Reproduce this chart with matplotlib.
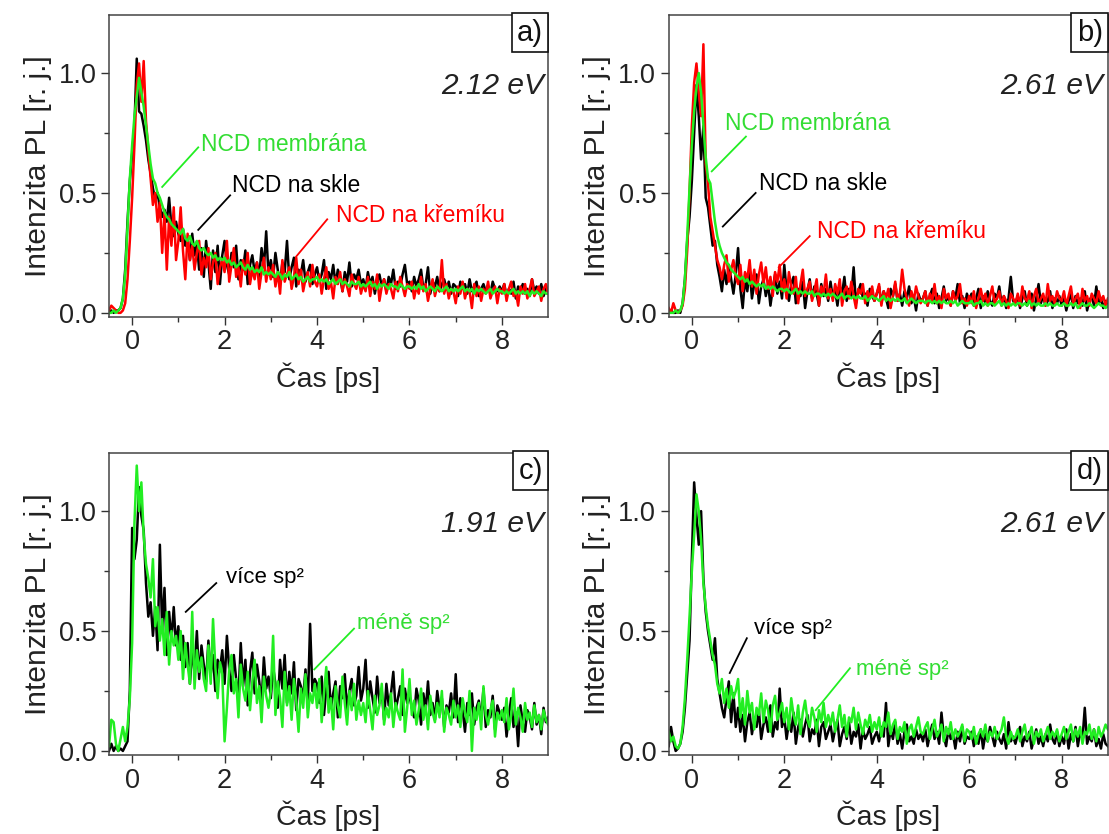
import numpy as np
import matplotlib
matplotlib.use('Agg')
import matplotlib.pyplot as plt

plt.rcParams['font.family'] = ['Liberation Sans', 'DejaVu Sans']

# time axis in ps, one sample every 0.05 ps from -0.5 to 9.0
t = np.round(np.arange(-0.5, 9.0001, 0.05), 2)

# PL intensities, in hundredths (rows: t<0, then 1 ps per row)
# panel a) 2.12 eV
a_skle = [0, 1, 0, 1, 1, 2, 6, 18, 38, 55,
          66, 78, 106, 84, 83, 78, 72, 64, 58, 52, 47, 50, 44, 40, 43, 38, 48, 36, 32, 38,
          33, 30, 35, 28, 31, 22, 33, 24, 29, 18, 27, 15, 30, 21, 10, 26, 17, 28, 12, 24,
          30, 20, 16, 25, 19, 28, 14, 22, 18, 26, 12, 20, 24, 17, 21, 15, 27, 19, 34, 16,
          22, 15, 25, 18, 12, 21, 17, 30, 14, 19, 23, 11, 18, 16, 22, 13, 17, 20, 12, 16,
          19, 13, 16, 22, 10, 17, 14, 20, 12, 18, 15, 9, 17, 13, 21, 11, 16, 14, 18, 12,
          14, 10, 17, 12, 15, 8, 13, 16, 11, 14, 9, 15, 12, 18, 10, 13, 11, 16, 20, 12,
          13, 9, 15, 11, 14, 18, 10, 12, 19, 8, 13, 11, 15, 9, 12, 14, 10, 13, 8, 12,
          11, 7, 13, 10, 12, 8, 14, 9, 11, 13, 7, 10, 12, 9, 11, 8, 13, 10, 9, 11,
          9, 12, 7, 10, 8, 13, 6, 11, 9, 12, 8, 10, 7, 14, 9, 11, 8, 12, 7, 10, 9]
a_kremik = [1, 3, 2, 1, 0, 0, 1, 4, 14, 30,
            48, 70, 95, 104, 88, 105, 80, 68, 56, 45, 50, 38, 46, 25, 42, 18, 40, 28, 44, 22,
            30, 44, 26, 14, 33, 22, 28, 18, 25, 30, 16, 23, 19, 27, 14, 21, 25, 12, 19, 22,
            17, 30, 13, 20, 27, 15, 19, 11, 22, 16, 25, 12, 18, 14, 21, 10, 17, 23, 13, 19,
            14, 20, 11, 17, 8, 22, 13, 16, 19, 10, 15, 23, 12, 18, 9, 14, 17, 11, 20, 13,
            11, 16, 8, 14, 19, 10, 13, 6, 15, 12, 17, 9, 14, 11, 7, 16, 12, 10, 15, 8,
            12, 9, 15, 7, 13, 10, 16, 5, 11, 14, 8, 12, 10, 6, 13, 9, 15, 11, 7, 12,
            10, 13, 6, 11, 8, 15, 9, 12, 5, 10, 14, 7, 11, 9, 22, 8, 12, 6, 10, 9,
            4, 11, 8, 13, 6, 10, 9, 2, 12, 7, 11, 5, 10, 8, 13, 6, 9, 11, 4, 10,
            8, 12, 5, 10, 13, 7, 9, 3, 11, 8, 12, 6, 10, 14, 7, 9, 11, 5, 10, 12, 8]
a_membrana = [0, 0, 1, 0, 1, 2, 6, 16, 36, 56,
              70, 82, 90, 98, 92, 86, 78, 70, 62, 56, 54, 50, 48, 45, 42, 40, 39, 37, 36, 35,
              34, 33, 35, 31, 30, 32, 29, 28, 30, 27, 26, 27, 25, 24, 25, 23, 24, 22, 23, 22,
              23, 21, 22, 20, 21, 19, 20, 21, 19, 18, 20, 18, 19, 17, 18, 17, 19, 16, 17, 16,
              17, 16, 15, 17, 16, 14, 16, 15, 17, 14, 15, 16, 14, 15, 13, 14, 15, 13, 14, 14,
              15, 13, 14, 13, 14, 12, 13, 14, 12, 13, 14, 12, 13, 12, 11, 13, 12, 12, 13, 11,
              12, 11, 12, 13, 11, 12, 10, 12, 11, 12, 11, 10, 12, 11, 11, 10, 12, 11, 10, 11,
              11, 10, 11, 10, 12, 10, 11, 9, 10, 11, 10, 9, 11, 10, 9, 10, 11, 9, 10, 9,
              10, 9, 10, 11, 9, 10, 9, 10, 8, 10, 9, 10, 9, 8, 9, 10, 8, 9, 10, 9,
              9, 8, 9, 8, 9, 10, 8, 9, 8, 9, 8, 9, 7, 9, 8, 9, 8, 7, 9, 8, 8]

# panel b) 2.61 eV
b_skle = [0, 1, 0, 0, 1, 0, 4, 14, 30, 40,
          55, 75, 95, 82, 64, 78, 48, 44, 36, 28, 30, 20, 15, 9, 18, 12, 20, 14, 8, 16,
          27, 10, 2, 14, 9, 18, 6, 12, 16, 4, 11, 14, 7, 12, 3, 10, 16, 8, 13, 6,
          20, 9, 5, 12, 15, 4, 10, 7, 13, 2, 9, 14, 6, 11, 8, 3, 12, 7, 10, 5,
          13, 6, 9, 3, 11, 8, 15, 5, 10, 7, 19, 4, 9, 12, 6, 8, 3, 10, 7, 5,
          8, 11, 4, 9, 6, 2, 10, 7, 12, 5, 8, 3, 9, 6, 11, 4, 7, 1, 8, 5,
          6, 9, 3, 7, 10, 4, 8, 2, 6, 11, 5, 7, 3, 9, 6, 12, 4, 7, 2, 8,
          5, 8, 3, 6, 10, 2, 7, 4, 9, 5, 3, 8, 6, 11, 4, 7, 2, 6, 15, 5,
          4, 7, 2, 6, 9, 3, 5, 8, 1, 6, 12, 4, 7, 3, 5, 9, 2, 6, 4, 7,
          3, 6, 1, 5, 8, 2, 7, 4, 6, 3, 9, 1, 5, 7, 3, 11, 4, 6, 2, 5, 3]
b_kremik = [2, 0, 4, 1, 0, 1, 3, 10, 26, 50,
            78, 96, 104, 92, 82, 112, 62, 54, 40, 34, 28, 22, 19, 14, 20, 24, 13, 18, 22, 15,
            12, 20, 9, 17, 14, 22, 11, 18, 8, 16, 21, 12, 19, 10, 15, 7, 17, 13, 20, 9,
            14, 6, 17, 11, 8, 15, 4, 12, 18, 7, 10, 13, 5, 9, 14, 3, 11, 8, 16, 6,
            10, 5, 12, 8, 14, 3, 9, 11, 6, 13, 7, 2, 10, 8, 12, 4, 9, 6, 11, 5,
            8, 12, 3, 9, 6, 10, 2, 7, 13, 5, 8, 18, 10, 6, 3, 9, 5, 11, 7, 4,
            6, 9, 3, 8, 5, 12, 4, 7, 2, 10, 6, 8, 3, 9, 5, 7, 12, 4, 6, 3,
            7, 4, 9, 2, 6, 10, 5, 8, 3, 7, 11, 4, 6, 9, 3, 7, 5, 2, 8, 6,
            4, 8, 3, 11, 6, 5, 9, 2, 7, 10, 4, 6, 8, 3, 12, 5, 7, 4, 9, 6,
            5, 9, 3, 7, 11, 4, 6, 8, 2, 10, 5, 7, 3, 8, 6, 4, 9, 5, 7, 3, 6]
b_membrana = [0, 0, 0, 1, 0, 1, 4, 14, 32, 52,
              70, 84, 94, 100, 92, 78, 65, 56, 54, 46, 38, 32, 28, 25, 23, 21, 20, 18, 17, 16,
              15, 14, 15, 13, 14, 12, 13, 12, 11, 12, 11, 12, 10, 11, 10, 11, 10, 9, 10, 10,
              9, 10, 9, 8, 9, 10, 8, 9, 8, 9, 8, 8, 9, 7, 8, 8, 7, 8, 7, 8,
              7, 8, 7, 6, 7, 8, 6, 7, 7, 6, 7, 6, 7, 6, 6, 7, 5, 6, 7, 6,
              6, 5, 6, 7, 5, 6, 5, 6, 5, 6, 5, 5, 6, 4, 5, 6, 5, 4, 5, 5,
              5, 4, 5, 5, 4, 5, 4, 5, 4, 5, 4, 4, 5, 4, 5, 3, 4, 5, 4, 4,
              4, 5, 3, 4, 4, 5, 3, 4, 3, 4, 4, 3, 4, 5, 3, 4, 3, 4, 3, 4,
              3, 4, 4, 3, 4, 3, 5, 3, 4, 3, 4, 3, 3, 4, 3, 4, 3, 3, 4, 3,
              3, 4, 3, 3, 4, 3, 4, 2, 3, 4, 3, 3, 4, 3, 2, 3, 4, 3, 3, 2, 3]

# panel c) 1.91 eV
c_vice = [0, 3, 0, 2, 0, 1, 0, 2, 4, 25,
          93, 80, 88, 110, 98, 92, 70, 56, 62, 48, 60, 42, 86, 50, 68, 40, 58, 46, 60, 44,
          52, 38, 48, 35, 45, 28, 42, 33, 50, 30, 44, 36, 29, 46, 32, 40, 25, 38, 34, 42,
          28, 48, 34, 25, 40, 30, 22, 45, 27, 38, 19, 33, 41, 24, 36, 29, 20, 39, 26, 31,
          22, 35, 28, 18, 38, 26, 40, 20, 33, 24, 37, 17, 30, 27, 22, 34, 19, 53, 25, 30,
          28, 20, 31, 15, 26, 33, 18, 24, 29, 14, 27, 22, 32, 17, 25, 30, 19, 23, 35, 21,
          26, 38, 18, 29, 22, 16, 31, 20, 25, 13, 28, 19, 24, 33, 17, 22, 27, 15, 26, 20,
          23, 18, 14, 26, 21, 11, 24, 17, 29, 15, 20, 13, 25, 18, 22, 10, 19, 16, 24, 14,
          32, 12, 22, 17, 8, 20, 15, 24, 11, 18, 21, 13, 26, 10, 17, 14, 23, 9, 19, 16,
          13, 18, 6, 15, 22, 10, 16, 2, 19, 12, 8, 17, 14, 9, 20, 11, 15, 7, 18, 12, 14]
c_mene = [2, 13, 12, 3, 0, 5, 10, 4, 10, 22,
          45, 95, 119, 100, 112, 90, 78, 72, 64, 80, 52, 60, 46, 55, 40, 58, 36, 50, 44, 48,
          38, 50, 30, 45, 36, 28, 58, 26, 42, 33, 39, 30, 25, 44, 28, 55, 35, 22, 37, 32,
          4, 18, 34, 40, 24, 30, 14, 36, 26, 21, 33, 17, 29, 38, 20, 27, 12, 31, 23, 18,
          25, 48, 15, 29, 22, 10, 33, 19, 27, 13, 30, 21, 8, 26, 18, 32, 14, 24, 20, 28,
          18, 30, 12, 24, 35, 16, 22, 9, 27, 19, 14, 31, 20, 11, 25, 17, 28, 13, 21, 15,
          20, 12, 25, 17, 9, 23, 15, 19, 28, 11, 18, 14, 24, 10, 20, 16, 13, 34, 8, 18,
          30, 15, 21, 11, 17, 26, 13, 19, 9, 23, 16, 12, 20, 14, 25, 8, 18, 15, 11, 21,
          14, 19, 10, 22, 16, 12, 25, 0, 18, 13, 20, 9, 27, 15, 11, 17, 21, 6, 16, 13,
          17, 12, 22, 9, 15, 26, 11, 18, 14, 8, 20, 13, 16, 10, 19, 12, 15, 9, 17, 13, 11]

# panel d) 2.61 eV
d_vice = [2, 10, 4, 0, 1, 3, 8, 18, 32, 46,
          80, 112, 98, 86, 100, 72, 58, 50, 44, 38, 47, 30, 24, 18, 14, 22, 29, 12, 24, 10,
          18, 8, 15, 4, 12, 16, 7, 13, 10, 17, 5, 11, 14, 8, 19, 6, 12, 9, 26, 10,
          14, 5, 12, 8, 16, 3, 10, 13, 6, 11, 15, 4, 9, 7, 13, 2, 10, 12, 5, 8,
          11, 4, 9, 13, 2, 7, 10, 5, 12, 3, 8, 6, 11, 1, 9, 5, 7, 10, 3, 6,
          8, 4, 10, 6, 20, 2, 9, 5, 12, 3, 7, 1, 8, 11, 4, 6, 3, 9, 5, 7,
          4, 9, 2, 7, 11, 5, 8, 3, 16, 6, 2, 9, 5, 7, 1, 8, 4, 10, 3, 6,
          5, 8, 2, 6, 3, 9, 1, 7, 4, 10, 6, 2, 8, 5, 3, 7, 1, 12, 4, 6,
          3, 7, 10, 2, 6, 4, 8, 1, 5, 9, 3, 6, 2, 7, 4, 11, 5, 3, 8, 2,
          6, 3, 9, 1, 7, 4, 10, 2, 8, 5, 18, 3, 6, 4, 9, 2, 5, 1, 7, 3, 2]
d_mene = [8, 4, 6, 2, 1, 3, 10, 22, 38, 56,
          75, 90, 107, 100, 88, 70, 60, 52, 46, 40, 36, 28, 24, 30, 20, 26, 18, 27, 22, 25,
          30, 14, 22, 11, 25, 16, 20, 9, 18, 15, 24, 12, 21, 17, 8, 19, 23, 13, 16, 20,
          12, 18, 9, 22, 15, 11, 19, 7, 16, 21, 13, 10, 18, 14, 8, 17, 12, 20, 10, 15,
          11, 16, 8, 13, 19, 10, 15, 6, 14, 12, 18, 9, 16, 11, 7, 13, 10, 15, 8, 12,
          9, 14, 6, 12, 10, 16, 7, 11, 13, 5, 10, 8, 12, 3, 9, 11, 6, 10, 14, 8,
          7, 10, 12, 5, 9, 13, 6, 8, 11, 4, 10, 7, 12, 5, 9, 6, 8, 11, 4, 9,
          8, 5, 10, 3, 7, 9, 6, 11, 4, 8, 6, 10, 5, 7, 9, 14, 6, 3, 8, 5,
          6, 9, 4, 8, 11, 5, 7, 10, 3, 8, 6, 9, 4, 7, 10, 5, 8, 6, 9, 4,
          7, 10, 5, 8, 11, 4, 9, 6, 10, 3, 8, 7, 11, 5, 9, 4, 10, 6, 8, 11, 9]

BLACK = '#000000'
RED = '#ff0000'
GREEN = '#22ee22'
GREEN_TXT = '#33dd33'

fig = plt.figure(figsize=(11.09, 8.34), dpi=100)
boxes = [[0.0983, 0.620, 0.396, 0.362], [0.603, 0.620, 0.396, 0.362],
         [0.0983, 0.0947, 0.396, 0.362], [0.603, 0.0947, 0.396, 0.362]]
axs = [fig.add_axes(b) for b in boxes]


def style(ax, letter, energy):
    ax.set_xlim(-0.5, 9.0)
    ax.set_ylim(-0.017, 1.242)
    ax.set_xticks([0, 2, 4, 6, 8])
    ax.set_xticks([1, 3, 5, 7], minor=True)
    ax.set_yticks([0.0, 0.5, 1.0])
    ax.set_yticklabels(['0.0', '0.5', '1.0'])
    ax.set_yticks([0.25, 0.75], minor=True)
    ax.tick_params(which='major', direction='out', length=5.5, width=1, labelsize=19.5,
                   colors='#333333', labelcolor='#222222', pad=3.5)
    ax.tick_params(which='minor', direction='out', length=3.5, width=1, colors='#333333')
    for s in ax.spines.values():
        s.set_color('#444444')
        s.set_linewidth(1.1)
    ax.set_xlabel('Čas [ps]', fontsize=20.5, color='#222222', labelpad=5)
    ax.set_ylabel('Intenzita PL [r. j.]', fontsize=21.5, color='#222222', labelpad=5)
    ax.text(0.988, 0.988, letter, transform=ax.transAxes, ha='right', va='top',
            fontsize=21, color='#111111',
            bbox=dict(boxstyle='square,pad=0.18', fc='white', ec='#111111', lw=1.2))
    ax.text(0.99, 0.765, energy, transform=ax.transAxes, ha='right', va='center',
            fontsize=21.5, style='italic', color='#222222')


def label(ax, text, xy_text, p1, p2, color, tcolor, size=16.5):
    ax.plot([p1[0], p2[0]], [p1[1], p2[1]], color=color, lw=1.3)
    ax.text(xy_text[0], xy_text[1], text, color=tcolor, fontsize=size, ha='left', va='center')


def curve(ax, y, color):
    y = np.array(y) / 100.0
    n = min(len(t), len(y))
    ax.plot(t[:n], y[:n], color=color, lw=1.8)


# a)
ax = axs[0]
curve(ax, a_skle, BLACK)
curve(ax, a_kremik, RED)
curve(ax, a_membrana, GREEN)
style(ax, 'a)', '2.12 eV')
label(ax, 'NCD membrána', (1.5, 0.70), (1.43, 0.69), (0.65, 0.525), GREEN, GREEN_TXT)
label(ax, 'NCD na skle', (2.16, 0.533), (2.12, 0.49), (1.43, 0.346), BLACK, BLACK)
label(ax, 'NCD na křemíku', (4.41, 0.408), (4.22, 0.39), (3.55, 0.235), RED, RED)

# b)
ax = axs[1]
curve(ax, b_skle, BLACK)
curve(ax, b_kremik, RED)
curve(ax, b_membrana, GREEN)
style(ax, 'b)', '2.61 eV')
label(ax, 'NCD membrána', (0.71, 0.79), (1.17, 0.735), (0.43, 0.59), GREEN, GREEN_TXT)
label(ax, 'NCD na skle', (1.45, 0.54), (1.38, 0.50), (0.67, 0.36), BLACK, BLACK)
label(ax, 'NCD na křemíku', (2.70, 0.34), (2.55, 0.32), (1.88, 0.19), RED, RED)

# c)
ax = axs[2]
curve(ax, c_vice, BLACK)
curve(ax, c_mene, GREEN)
style(ax, 'c)', '1.91 eV')
label(ax, 'více sp²', (2.03, 0.725), (1.82, 0.70), (1.16, 0.58), BLACK, BLACK, 16)
label(ax, 'méně sp²', (4.87, 0.53), (4.80, 0.51), (3.94, 0.34), GREEN, GREEN_TXT, 16)

# d)
ax = axs[3]
curve(ax, d_vice, BLACK)
curve(ax, d_mene, GREEN)
style(ax, 'd)', '2.61 eV')
label(ax, 'více sp²', (1.35, 0.51), (1.19, 0.47), (0.82, 0.325), BLACK, BLACK, 16)
label(ax, 'méně sp²', (3.55, 0.34), (3.42, 0.345), (2.68, 0.17), GREEN, GREEN_TXT, 16)

fig.savefig('out.png', dpi=100)
